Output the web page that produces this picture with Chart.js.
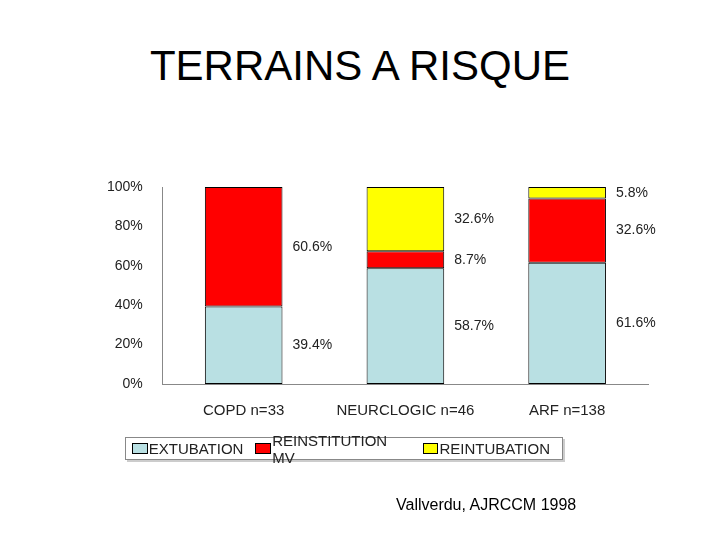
<!DOCTYPE html>
<html>
<head>
<meta charset="utf-8">
<script src="https://cdn.jsdelivr.net/npm/chart.js@4"></script>
<style>
  body { margin: 0; background: #fff; font-family: "Liberation Sans", Arial, sans-serif; }
  #wrap { position: relative; width: 720px; height: 540px; }
  #titre { position: absolute; left: 0; width: 720px; top: 42px; text-align: center; font-size: 42px; color: #000; }
  #c { position: absolute; left: 0; top: 0; }
  #legende { position: absolute; left: 125px; top: 437px; width: 438px; height: 23px; border: 1px solid #888;
    box-shadow: 2px 2px 0 #ccc; font-size: 15px; color: #222; display: flex; align-items: center; padding-left: 6px; box-sizing: border-box; }
  #legende span.b { display: inline-block; width: 14px; height: 9px; border: 1px solid #000; margin-right: 1px; }
  #legende span.i { margin-right: 12px; }
  #source { position: absolute; left: 396px; top: 496px; font-size: 16px; color: #000; }
</style>
</head>
<body>
<div id="wrap">
  <div id="titre">TERRAINS A RISQUE</div>
  <canvas id="c" width="720" height="540"></canvas>
  <div id="legende"></div>
  <div id="source">Vallverdu, AJRCCM 1998</div>
</div>
<script>
const categories = ["COPD n=33", "NEURCLOGIC n=46", "ARF n=138"];
const extubation = [39.4, 58.7, 61.6];
const reinstitution = [60.6, 8.7, 32.6];
const reintubation = [0, 32.6, 5.8];
const series = ["EXTUBATION", "REINSTITUTION MV", "REINTUBATION"];
const couleurs = ["#b9e0e3", "#ff0000", "#ffff00"];

document.getElementById("legende").innerHTML = series.map((s, i) =>
  `<span class="b" style="background:${couleurs[i]}"></span><span class="i">${s}</span>`).join("");

const etiquettes = {
  id: "etiquettes",
  afterDatasetsDraw(chart) {
    const ctx = chart.ctx;
    ctx.save();
    ctx.font = "14px 'Liberation Sans', Arial, sans-serif";
    ctx.fillStyle = "#222";
    ctx.textBaseline = "middle";
    chart.data.datasets.forEach((ds, di) => {
      chart.getDatasetMeta(di).data.forEach((bar, i) => {
        if (!ds.data[i]) return;
        const p = bar.getProps(["x", "y", "base", "width"], true);
        ctx.fillText(ds.data[i].toFixed(1) + "%", p.x + p.width / 2 + 10, (p.y + p.base) / 2);
      });
    });
    ctx.restore();
  }
};

new Chart(document.getElementById("c"), {
  type: "bar",
  data: {
    labels: categories,
    datasets: [extubation, reinstitution, reintubation].map((d, i) => ({
      label: series[i],
      data: d,
      backgroundColor: couleurs[i],
      borderColor: "#000",
      borderWidth: 1,
      borderSkipped: false,
      barPercentage: 0.48,
      categoryPercentage: 1
    }))
  },
  options: {
    responsive: false,
    animation: false,
    layout: { padding: { left: 95, right: 72, top: 187, bottom: 110 } },
    plugins: { legend: { display: false }, tooltip: { enabled: false } },
    scales: {
      x: {
        stacked: true,
        grid: { display: false },
        border: { color: "#888" },
        ticks: { color: "#222", font: { size: 15 }, padding: 10 }
      },
      y: {
        stacked: true,
        min: 0, max: 100,
        grid: { display: false },
        border: { color: "#888" },
        ticks: { stepSize: 20, color: "#222", font: { size: 14 }, padding: 12, callback: v => v + "%" }
      }
    }
  },
  plugins: [etiquettes]
});
</script>
</body>
</html>
